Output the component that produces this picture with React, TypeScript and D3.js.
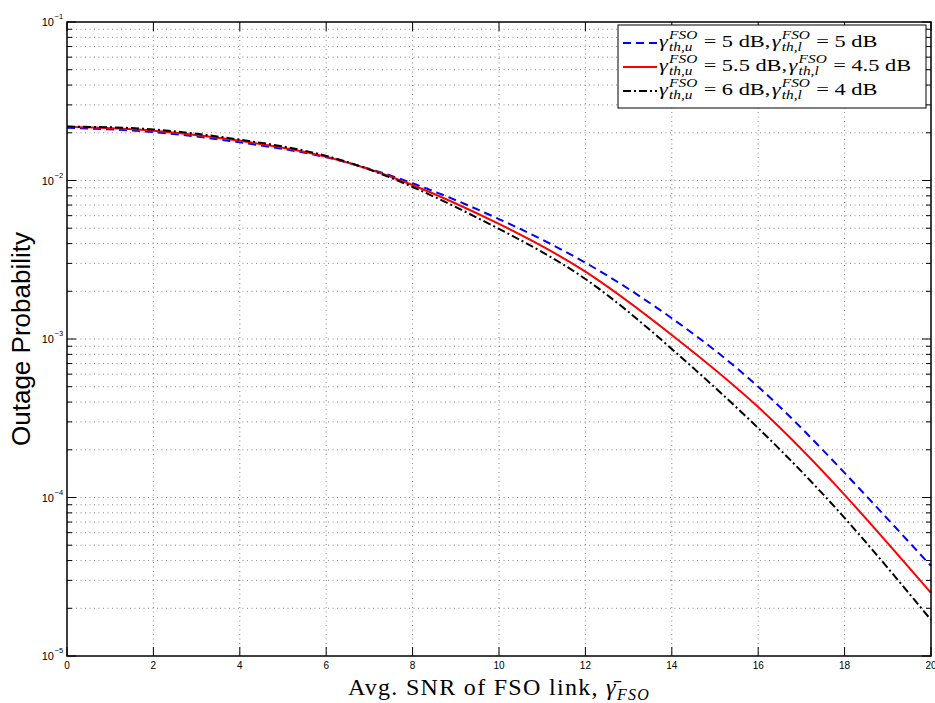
import React from "react";
import * as d3 from "d3";

const snr = [0, 2, 4, 6, 8, 10, 12, 14, 16, 18, 20];
const seriesA = [0.0215, 0.0202, 0.0174, 0.014, 0.0096, 0.00571, 0.00303, 0.001352, 0.0005, 0.000143, 3.7e-5];
const seriesB = [0.0218, 0.0206, 0.0178, 0.01413, 0.00937, 0.00532, 0.00266, 0.00106, 0.000372, 0.000104, 2.5e-5];
const seriesC = [0.0219, 0.021, 0.0181, 0.0143, 0.0091, 0.00495, 0.00239, 0.000865, 0.000274, 7.43e-5, 1.69e-5];
const xTicks = [0, 2, 4, 6, 8, 10, 12, 14, 16, 18, 20];
const yDecades = [-5, -4, -3, -2, -1];
const legendValues = [
  ["5", "5"],
  ["5.5", "4.5"],
  ["6", "4"],
];

const W = 935, H = 703;
const L = 67, R = 931, T = 22, B = 656;

const serif = "'Liberation Serif', 'DejaVu Serif', serif";
const sans = "'Liberation Sans', Arial, sans-serif";

let ctx: CanvasRenderingContext2D | null = null;
function tw(text: string, size: number, italic: boolean) {
  if (!ctx) ctx = document.createElement("canvas").getContext("2d");
  if (!ctx) return text.length * size * 0.5;
  ctx.font = `${italic ? "italic " : ""}${size}px 'Liberation Serif'`;
  return ctx.measureText(text).width;
}

function LegendText({ x0, ry, u, l }: { x0: number; ry: number; u: string; l: string }) {
  const MF = 17.5, SF = 12, GAP = 5, SX = 1.28;
  const gw = tw("γ", MF, true);
  const sx1 = x0 + gw + 1;
  const sw1 = Math.max(tw("FSO", SF, true), tw("th,u", SF, true));
  const eq1 = sx1 + sw1 + GAP;
  const p1 = `= ${u} dB,`;
  const g2 = eq1 + tw(p1, MF, false) + 1;
  const sx2 = g2 + gw + 1;
  const sw2 = Math.max(tw("FSO", SF, true), tw("th,l", SF, true));
  const eq2 = sx2 + sw2 + GAP;
  const p2 = `= ${l} dB`;
  const base = ry + 4.5;
  return (
    <g
      fontFamily={serif}
      fill="#000"
      style={{ whiteSpace: "pre" }}
      transform={`translate(${x0},0) scale(${SX},1) translate(${-x0},0)`}
    >
      <text x={x0} y={base} fontSize={MF} fontStyle="italic">γ</text>
      <text x={sx1} y={ry - 4} fontSize={SF} fontStyle="italic">FSO</text>
      <text x={sx1} y={ry + 8} fontSize={SF} fontStyle="italic">th,u</text>
      <text x={eq1} y={base} fontSize={MF}>{p1}</text>
      <text x={g2} y={base} fontSize={MF} fontStyle="italic">γ</text>
      <text x={sx2} y={ry - 4} fontSize={SF} fontStyle="italic">FSO</text>
      <text x={sx2} y={ry + 8} fontSize={SF} fontStyle="italic">th,l</text>
      <text x={eq2} y={base} fontSize={MF}>{p2}</text>
    </g>
  );
}

export default function App() {
  const x = d3.scaleLinear().domain([0, 20]).range([L, R]);
  const y = d3.scaleLog().domain([1e-5, 1e-1]).range([B, T]);
  const line = d3
    .line<number>()
    .x((_, i) => x(snr[i]))
    .y((d) => y(d))
    .curve(d3.curveNatural);

  const minor: number[] = [];
  for (let e = -5; e < -1; e++) for (let k = 2; k <= 9; k++) minor.push(k * Math.pow(10, e));

  const series = [
    { data: seriesA, color: "#0000ff", dash: "8 5" },
    { data: seriesB, color: "#ff0000", dash: "" },
    { data: seriesC, color: "#000000", dash: "8 3 2 3" },
  ];

  const labelStart = 343;
  return (
    <svg width={W} height={H} style={{ position: "absolute", left: 0, top: 0, background: "#fff" }}>
      <rect x={0} y={0} width={W} height={H} fill="#fff" />
      {/* grid */}
      <g stroke="#555" strokeWidth={0.7} strokeDasharray="1 3.5">
        {xTicks.slice(1, -1).map((t) => (
          <line key={"gx" + t} x1={x(t)} x2={x(t)} y1={T} y2={B} />
        ))}
        {yDecades.slice(1, -1).map((e) => (
          <line key={"gy" + e} x1={L} x2={R} y1={y(Math.pow(10, e))} y2={y(Math.pow(10, e))} />
        ))}
        {minor.map((v) => (
          <line key={"gm" + v} x1={L} x2={R} y1={y(v)} y2={y(v)} />
        ))}
      </g>
      {/* ticks */}
      <g stroke="#000" strokeWidth={1}>
        {xTicks.map((t) => (
          <g key={"tx" + t}>
            <line x1={x(t)} x2={x(t)} y1={B} y2={B - 9} />
            <line x1={x(t)} x2={x(t)} y1={T} y2={T + 9} />
          </g>
        ))}
        {yDecades.map((e) => (
          <g key={"ty" + e}>
            <line x1={L} x2={L + 9} y1={y(Math.pow(10, e))} y2={y(Math.pow(10, e))} />
            <line x1={R} x2={R - 9} y1={y(Math.pow(10, e))} y2={y(Math.pow(10, e))} />
          </g>
        ))}
        {minor.map((v) => (
          <g key={"tm" + v}>
            <line x1={L} x2={L + 5} y1={y(v)} y2={y(v)} />
            <line x1={R} x2={R - 5} y1={y(v)} y2={y(v)} />
          </g>
        ))}
      </g>
      {/* series */}
      <g fill="none" strokeWidth={2}>
        {series.map((s, i) => (
          <path key={i} d={line(s.data) || ""} stroke={s.color} strokeDasharray={s.dash || undefined} />
        ))}
      </g>
      {/* axes box */}
      <rect x={L} y={T} width={R - L} height={B - T} fill="none" stroke="#000" strokeWidth={1.5} />
      {/* tick labels */}
      <g fontFamily={sans} fontSize={10} fill="#000">
        {xTicks.map((t) => (
          <text key={"lx" + t} x={x(t)} y={B + 13} textAnchor="middle">
            {t}
          </text>
        ))}
        {yDecades.map((e) => (
          <text key={"ly" + e} x={54} y={y(Math.pow(10, e)) + 4} textAnchor="end" fontSize={11}>
            10
          </text>
        ))}
        {yDecades.map((e) => (
          <text key={"lys" + e} x={54.5} y={y(Math.pow(10, e)) - 3} fontSize={7.5}>
            {"\u2212" + Math.abs(e)}
          </text>
        ))}
      </g>
      {/* axis labels */}
      <text
        transform={`translate(30, ${(T + B) / 2}) rotate(-90)`}
        textAnchor="middle"
        fontFamily={sans}
        fontSize={26}
      >
        Outage Probability
      </text>
      <text x={(L + R) / 2} y={695} textAnchor="middle" fontFamily={serif} fontSize={24} letterSpacing={1.3}>
        Avg. SNR of FSO link,{" "}
        <tspan fontStyle="italic">γ̄</tspan>
        <tspan fontStyle="italic" fontSize={16} dy={5}>FSO</tspan>
      </text>
      {/* legend */}
      <g>
        <rect x={618} y={25} width={308} height={83} fill="#fff" stroke="#000" strokeWidth={1} />
        {series.map((s, i) => {
          const ry = 43 + i * 24;
          const [u, l] = legendValues[i];
          return (
            <g key={"lg" + i}>
              <line x1={623} x2={657} y1={ry} y2={ry} stroke={s.color} strokeWidth={2} strokeDasharray={s.dash || undefined} />
              <LegendText x0={659} ry={ry} u={u} l={l} />
            </g>
          );
        })}
      </g>
    </svg>
  );
}
